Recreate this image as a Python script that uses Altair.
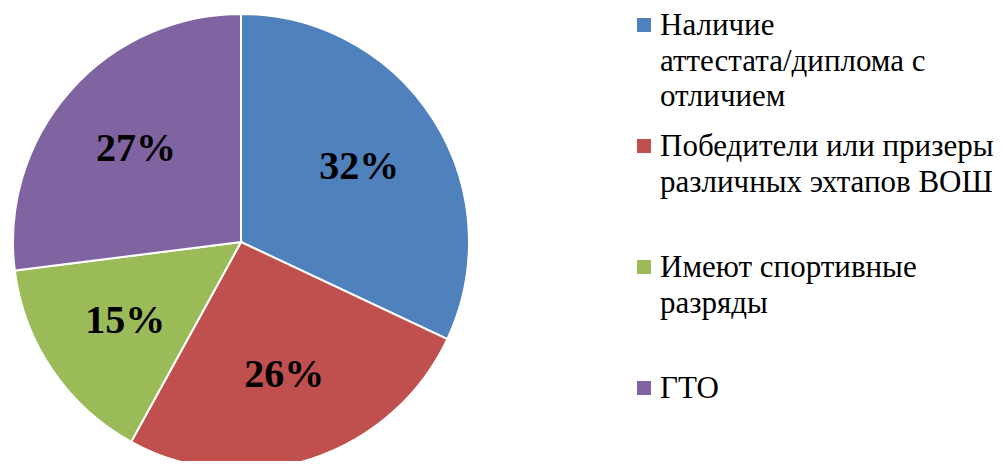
import altair as alt
import pandas as pd

categories = [
    "Наличие аттестата/диплома с отличием",
    "Победители или призеры различных эхтапов ВОШ",
    "Имеют спортивные разряды",
    "ГТО",
]
legend_lines = [
    ["Наличие", "аттестата/диплома с", "отличием"],
    ["Победители или призеры", "различных эхтапов ВОШ"],
    ["Имеют спортивные", "разряды"],
    ["ГТО"],
]
values = [32, 26, 15, 27]
colors = ["#4F81BD", "#C0504D", "#9BBB59", "#8064A2"]

df = pd.DataFrame({
    "category": categories,
    "value": values,
    "idx": list(range(len(categories))),
    "pct": [f"{v}%" for v in values],
})

lines_df = pd.DataFrame(
    [{"idx": i, "line": j, "text": t}
     for i, ls in enumerate(legend_lines) for j, t in enumerate(ls)]
)

SERIF = "Liberation Serif"

color = alt.Color("category:N", scale=alt.Scale(domain=categories, range=colors), legend=None)
cx, cy = 233, 234

base = alt.Chart(df)

arcs = base.mark_arc(radius=228, stroke="white", strokeWidth=2).encode(
    theta=alt.Theta("value:Q", stack=True),
    color=color,
    order=alt.Order("idx:O"),
    x=alt.value(cx), y=alt.value(cy),
)

labels = base.mark_text(radius=140, font=SERIF, fontSize=40,
                        fontWeight="bold", color="black").encode(
    theta=alt.Theta("value:Q", stack=True),
    order=alt.Order("idx:O"),
    text="pct:N",
    x=alt.value(cx), y=alt.value(cy),
)

yscale = alt.Scale(domain=[0, 3], range=[17, 380])

leg_sq = base.mark_square(size=196, opacity=1).encode(
    x=alt.value(636),
    y=alt.Y("idx:Q", scale=yscale, axis=None),
    color=color,
)

leg_txt = alt.Chart(lines_df).transform_calculate(
    ypos="datum.idx + datum.line * 35.5 / 121"
).mark_text(align="left", baseline="alphabetic", dy=10, font=SERIF, fontSize=31,
            color="black").encode(
    x=alt.value(652),
    y=alt.Y("ypos:Q", scale=yscale, axis=None),
    text="text:N",
)

chart = alt.layer(arcs, labels, leg_sq, leg_txt).properties(
    width=992, height=453, padding=0, autosize="none"
).configure_view(strokeWidth=0)

chart.save("out.html", embed_options={"renderer": "svg", "actions": False})
